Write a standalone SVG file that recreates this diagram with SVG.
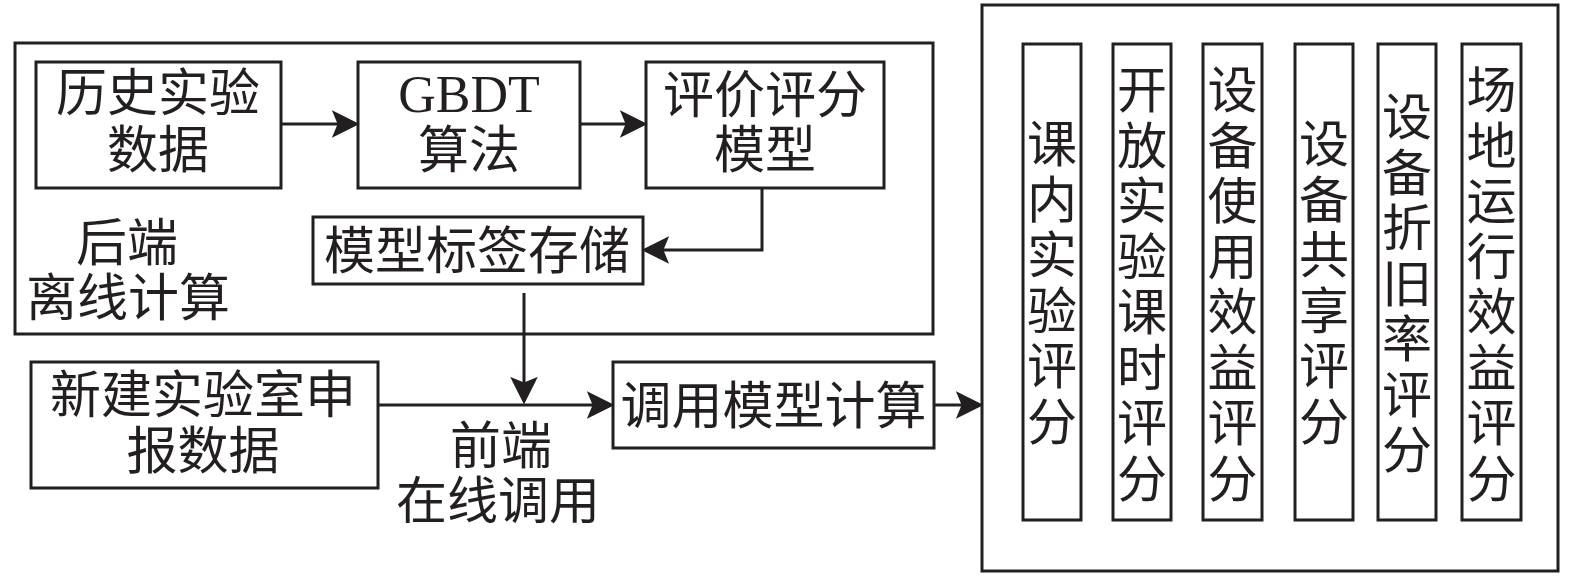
<svg xmlns="http://www.w3.org/2000/svg" width="1575" height="577" viewBox="0 0 1575 577">
<style>
.box{fill:none;stroke:#231f20;stroke-width:3}
.t{font-family:"Noto Sans CJK SC","Noto Sans CJK JP",sans-serif;font-size:51px;fill:#231f20;text-anchor:middle}
.v{font-family:"Noto Sans CJK SC","Noto Sans CJK JP",sans-serif;font-size:50px;fill:#231f20;text-anchor:middle}
.lat{font-family:"Liberation Serif",serif;font-size:52px;fill:#231f20;text-anchor:middle}
.c{fill:none;stroke:#231f20;stroke-width:3}
</style>
<defs>
<marker id="ah" markerUnits="userSpaceOnUse" markerWidth="30" markerHeight="30" viewBox="0 -13 26 26" refX="14" refY="0" orient="auto">
<path d="M0,-12 L24,0 L0,12 L5,0 Z" fill="#231f20"/>
</marker>
</defs>
<rect width="1575" height="577" fill="#fff"/>

<g id="backend">
<rect class="box" x="15" y="43" width="918" height="291"/>
<text class="t" x="127" y="261">后端</text>
<text class="t" x="128" y="316">离线计算</text>
</g>

<g id="history">
<rect class="box" x="36" y="62" width="245" height="126"/>
<text class="t" x="158" y="111">历史实验</text>
<text class="t" x="158" y="168">数据</text>
</g>

<g id="gbdt">
<rect class="box" x="358" y="62" width="222" height="126"/>
<text class="lat" x="469" y="112">GBDT</text>
<text class="t" x="469" y="168">算法</text>
</g>

<g id="model">
<rect class="box" x="646" y="62" width="238" height="126"/>
<text class="t" x="765" y="113">评价评分</text>
<text class="t" x="765" y="168">模型</text>
</g>

<g id="storage">
<rect class="box" x="313" y="217" width="330" height="67"/>
<text class="t" x="477" y="269">模型标签存储</text>
</g>

<g id="newlab">
<rect class="box" x="31" y="362" width="347" height="126"/>
<text class="t" x="203" y="413">新建实验室申</text>
<text class="t" x="203" y="469">报数据</text>
</g>

<g id="frontend">
<text class="t" x="501" y="464">前端</text>
<text class="t" x="498" y="519">在线调用</text>
</g>

<g id="compute">
<rect class="box" x="613" y="362" width="321" height="86"/>
<text class="t" x="773.5" y="424">调用模型计算</text>
</g>

<g id="scores">
<rect class="box" x="982" y="5" width="576" height="566"/>
</g>

<g id="s1">
<rect class="box" x="1023" y="44" width="58" height="476"/>
<text class="v"><tspan x="1052" y="162">课</tspan><tspan x="1052" dy="55.5">内</tspan><tspan x="1052" dy="55.5">实</tspan><tspan x="1052" dy="55.5">验</tspan><tspan x="1052" dy="55.5">评</tspan><tspan x="1052" dy="55.5">分</tspan></text>
</g>
<g id="s2">
<rect class="box" x="1113" y="44" width="58" height="476"/>
<text class="v"><tspan x="1142" y="108">开</tspan><tspan x="1142" dy="55.5">放</tspan><tspan x="1142" dy="55.5">实</tspan><tspan x="1142" dy="55.5">验</tspan><tspan x="1142" dy="55.5">课</tspan><tspan x="1142" dy="55.5">时</tspan><tspan x="1142" dy="55.5">评</tspan><tspan x="1142" dy="55.5">分</tspan></text>
</g>
<g id="s3">
<rect class="box" x="1203" y="44" width="59" height="476"/>
<text class="v"><tspan x="1232.5" y="108">设</tspan><tspan x="1232.5" dy="55.5">备</tspan><tspan x="1232.5" dy="55.5">使</tspan><tspan x="1232.5" dy="55.5">用</tspan><tspan x="1232.5" dy="55.5">效</tspan><tspan x="1232.5" dy="55.5">益</tspan><tspan x="1232.5" dy="55.5">评</tspan><tspan x="1232.5" dy="55.5">分</tspan></text>
</g>
<g id="s4">
<rect class="box" x="1295" y="44" width="58" height="476"/>
<text class="v"><tspan x="1324" y="162">设</tspan><tspan x="1324" dy="55.5">备</tspan><tspan x="1324" dy="55.5">共</tspan><tspan x="1324" dy="55.5">享</tspan><tspan x="1324" dy="55.5">评</tspan><tspan x="1324" dy="55.5">分</tspan></text>
</g>
<g id="s5">
<rect class="box" x="1378" y="44" width="58" height="476"/>
<text class="v"><tspan x="1407" y="135">设</tspan><tspan x="1407" dy="55.5">备</tspan><tspan x="1407" dy="55.5">折</tspan><tspan x="1407" dy="55.5">旧</tspan><tspan x="1407" dy="55.5">率</tspan><tspan x="1407" dy="55.5">评</tspan><tspan x="1407" dy="55.5">分</tspan></text>
</g>
<g id="s6">
<rect class="box" x="1462" y="44" width="59" height="476"/>
<text class="v"><tspan x="1491.5" y="108">场</tspan><tspan x="1491.5" dy="55.5">地</tspan><tspan x="1491.5" dy="55.5">运</tspan><tspan x="1491.5" dy="55.5">行</tspan><tspan x="1491.5" dy="55.5">效</tspan><tspan x="1491.5" dy="55.5">益</tspan><tspan x="1491.5" dy="55.5">评</tspan><tspan x="1491.5" dy="55.5">分</tspan></text>
</g>

<g id="connectors">
<path class="c" d="M281,124 H348" marker-end="url(#ah)"/>
<path class="c" d="M580,124 H636" marker-end="url(#ah)"/>
<path class="c" d="M762,188 V250 H653" marker-end="url(#ah)"/>
<path class="c" d="M524,293 V393" marker-end="url(#ah)"/>
<path class="c" d="M378,405 H603" marker-end="url(#ah)"/>
<path class="c" d="M934,405 H972" marker-end="url(#ah)"/>
</g>
</svg>
